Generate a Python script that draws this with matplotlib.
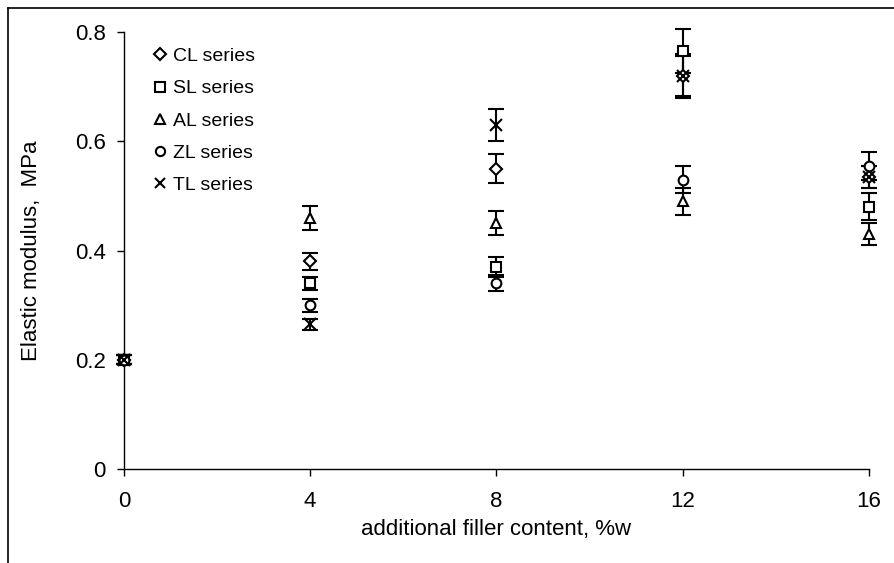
import matplotlib
matplotlib.use("Agg")
import matplotlib.pyplot as plt
from matplotlib.lines import Line2D

plt.rcParams['font.family'] = ['Liberation Sans', 'DejaVu Sans']

x = [0, 4, 8, 12, 16]
series = ["CL series", "SL series", "AL series", "ZL series", "TL series"]
markers = ["D", "s", "^", "o", "x"]
msizes = [6, 7, 7, 7, 8]

cl = [0.20, 0.38, 0.55, 0.72, 0.535]
cl_err = [0.008, 0.015, 0.027, 0.037, 0.02]
sl = [0.20, 0.34, 0.37, 0.765, 0.48]
sl_err = [0.008, 0.012, 0.018, 0.04, 0.025]
al = [0.20, 0.46, 0.45, 0.49, 0.43]
al_err = [0.008, 0.022, 0.022, 0.025, 0.02]
zl = [0.20, 0.30, 0.34, 0.53, 0.555]
zl_err = [0.008, 0.012, 0.015, 0.025, 0.025]
tl = [0.20, 0.265, 0.63, 0.72, 0.535]
tl_err = [0.008, 0.01, 0.03, 0.04, 0.02]

values = [cl, sl, al, zl, tl]
errors = [cl_err, sl_err, al_err, zl_err, tl_err]

fig = plt.figure(figsize=(8.94, 5.63), dpi=100)
ax = fig.add_axes([0.1387, 0.167, 0.833, 0.776])

for v, e, m, ms, lab in zip(values, errors, markers, msizes, series):
    lines = ax.errorbar(x, v, yerr=e, fmt=m, ms=ms, mfc='white', mec='black', mew=1.5,
                        ecolor='black', elinewidth=1.5, capsize=6, capthick=1.5,
                        color='black', label=lab, zorder=3)
    for art in lines.get_children():
        art.set_clip_on(False)

ax.set_xlim(0, 16)
ax.set_ylim(0, 0.8)
ax.set_xticks([0, 4, 8, 12, 16])
ax.set_yticks([0, 0.2, 0.4, 0.6, 0.8])
ax.set_yticklabels(["0", "0.2", "0.4", "0.6", "0.8"])
ax.spines['top'].set_visible(False)
ax.spines['right'].set_visible(False)
for s in ['left', 'bottom']:
    ax.spines[s].set_linewidth(1.0)
ax.tick_params(axis='both', direction='out', length=5, width=1, labelsize=16, pad=8)
ax.tick_params(axis='x', pad=11)
ax.set_xlabel("additional filler content, %w", fontsize=16, labelpad=5)
ax.set_ylabel("Elastic modulus,  MPa", fontsize=16, labelpad=24)

handles = [Line2D([], [], linestyle='none', marker=m, ms=ms * 0.95, mfc='white',
                  mec='black', mew=1.5, color='black') for m, ms in zip(markers, msizes)]
ax.legend(handles, series, loc='upper left', bbox_to_anchor=(0.02, 1.0),
          frameon=False, fontsize=14, labelspacing=0.75, handlelength=0.6,
          handletextpad=0.35, borderaxespad=0.4)

fig.add_artist(Line2D([0.009, 0.009], [0.0, 0.985], transform=fig.transFigure,
                      color='black', lw=1.2))
fig.add_artist(Line2D([0.009, 1.0], [0.985, 0.985], transform=fig.transFigure,
                      color='black', lw=1.2))

fig.savefig("out.png", dpi=100)
